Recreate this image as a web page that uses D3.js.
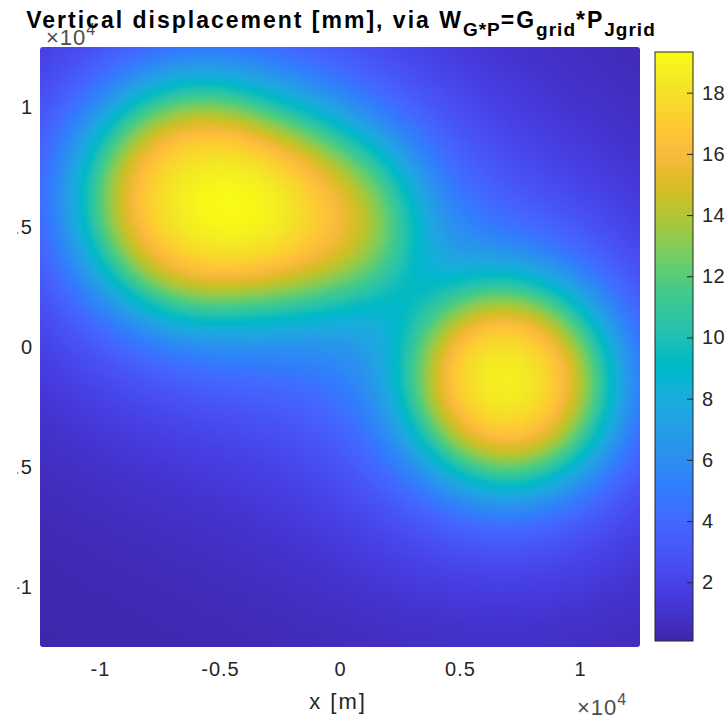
<!DOCTYPE html>
<html>
<head>
<meta charset="UTF-8">
<title>Vertical displacement</title>
<script src="https://cdn.jsdelivr.net/npm/d3@7"></script>
<style>
  body { margin: 0; background: #fff; }
  text { font-family: "Liberation Sans", Arial, sans-serif; }
</style>
</head>
<body>
<svg id="chart" width="725" height="725"></svg>
<script>
// disc loads P: centre [m], radius [m], relative pressure
const loadX = [-6000, -2600, -200, 7050];
const loadY = [6150, 5700, 5400, -1550];
const loadR = [4600, 3900, 3200, 4000];
const loadP = [1.0, 0.85, 0.82, 1.14];
const peakW = 19.3; // mm, largest displacement

const xTicks = [-10000, -5000, 0, 5000, 10000];
const yTicks = [-10000, -5000, 0, 5000, 10000];
const cTicks = [2, 4, 6, 8, 10, 12, 14, 16, 18];
const cLim = [0.08, 19.33];
const extent = [-12500, 12500];

const parula = ["#3e26a8","#402ab4","#422ec0","#4332cb","#4537d5","#463cde","#4741e5","#4747eb",
  "#484df0","#4852f4","#4758f8","#465efb","#4563fd","#4269fe","#3e6fff","#3875fe",
  "#327cfc","#2f81fa","#2e87f7","#2d8cf3","#2b91ef","#2796eb","#259be8","#23a0e5",
  "#20a5e3","#1ca9df","#18addb","#12b1d6","#08b5d0","#01b8ca","#02bac3","#0bbdbd",
  "#19bfb6","#24c1ae","#2cc4a7","#31c69f","#37c897","#3fca8e","#4acb84","#57cc7a",
  "#64cd6f","#72cd64","#81cc59","#8fcb4e","#9dc943","#abc739","#b9c431","#c5c22a",
  "#d1bf27","#dcbd29","#e6bb2d","#f0ba36","#f8ba3d","#febe3c","#fec338","#fec934",
  "#fccf30","#fad62d","#f7dc2a","#f5e327","#f5e924","#f6ef20","#f7f51b","#f9fb15"];

const svg = d3.select("#chart");
const plot = { left: 40, top: 47, size: 600 };
const cbar = { left: 655, top: 52, width: 38, height: 589 };

const x = d3.scaleLinear().domain(extent).range([plot.left, plot.left + plot.size]);
const y = d3.scaleLinear().domain(extent).range([plot.top + plot.size, plot.top]);
const color = d3.scaleLinear()
  .domain(parula.map((_, i) => cLim[0] + i * (cLim[1] - cLim[0]) / (parula.length - 1)))
  .range(parula)
  .clamp(true);

// load grid P_Jgrid
const N = 125;
const cell = (extent[1] - extent[0]) / N;
const P0 = new Float32Array(N * N);
for (let j = 0; j < N; j++) {
  const yy = extent[1] - (j + 0.5) * cell;
  for (let i = 0; i < N; i++) {
    const xx = extent[0] + (i + 0.5) * cell;
    let v = 0;
    for (let k = 0; k < loadX.length; k++) {
      const dx = xx - loadX[k], dy = yy - loadY[k];
      if (dx * dx + dy * dy <= loadR[k] * loadR[k]) v = Math.max(v, loadP[k]);
    }
    P0[j * N + i] = v;
  }
}

// soften the load edges
function blur(src, sigma) {
  const r = Math.ceil(3 * sigma / cell);
  const ker = d3.range(-r, r + 1).map(k => Math.exp(-((k * cell) ** 2) / (2 * sigma * sigma)));
  const s = d3.sum(ker);
  const tmp = new Float32Array(N * N), out = new Float32Array(N * N);
  for (let j = 0; j < N; j++)
    for (let i = 0; i < N; i++) {
      let acc = 0;
      for (let k = -r; k <= r; k++) {
        const ii = i + k;
        if (ii >= 0 && ii < N) acc += src[j * N + ii] * ker[k + r];
      }
      tmp[j * N + i] = acc / s;
    }
  for (let j = 0; j < N; j++)
    for (let i = 0; i < N; i++) {
      let acc = 0;
      for (let k = -r; k <= r; k++) {
        const jj = j + k;
        if (jj >= 0 && jj < N) acc += tmp[jj * N + i] * ker[k + r];
      }
      out[j * N + i] = acc / s;
    }
  return out;
}
const P = blur(P0, 1000);

// Green's function G_grid: point-load response 1/r, tapered with depth scale L
const L = 5500, r0 = 0.3 * cell, M = 2 * N - 1;
const G = new Float32Array(M * M);
for (let dj = -(N - 1); dj < N; dj++)
  for (let di = -(N - 1); di < N; di++) {
    const r = Math.hypot(di, dj) * cell;
    G[(dj + N - 1) * M + di + N - 1] = Math.exp(-r / L) / Math.hypot(r, r0);
  }

const W = new Float32Array(N * N);
for (let lj = 0; lj < N; lj++)
  for (let li = 0; li < N; li++) {
    const p = P[lj * N + li];
    if (p < 1e-3) continue;
    for (let j = 0; j < N; j++) {
      const row = (j - lj + N - 1) * M - li + N - 1;
      for (let i = 0; i < N; i++) W[j * N + i] += p * G[row + i];
    }
  }
const scale = peakW / d3.max(W);

const canvas = document.createElement("canvas");
canvas.width = N; canvas.height = N;
const ctx = canvas.getContext("2d");
const img = ctx.createImageData(N, N);
W.forEach((v, k) => {
  const c = d3.rgb(color(v * scale));
  img.data[4 * k] = c.r; img.data[4 * k + 1] = c.g; img.data[4 * k + 2] = c.b; img.data[4 * k + 3] = 255;
});
ctx.putImageData(img, 0, 0);

const defs = svg.append("defs");
defs.append("clipPath").attr("id", "plotclip")
  .append("rect")
  .attr("x", plot.left).attr("y", plot.top)
  .attr("width", plot.size).attr("height", plot.size).attr("rx", 3);

svg.append("image")
  .attr("href", canvas.toDataURL())
  .attr("x", plot.left).attr("y", plot.top)
  .attr("width", plot.size).attr("height", plot.size)
  .attr("preserveAspectRatio", "none")
  .attr("clip-path", "url(#plotclip)");

// axes
const xAxis = svg.append("g")
  .attr("transform", `translate(0,${plot.top + plot.size})`)
  .call(d3.axisBottom(x).tickValues(xTicks).tickSize(0).tickPadding(15).tickFormat(d => String(d / 1e4)));
const yAxis = svg.append("g")
  .attr("transform", `translate(${plot.left},0)`)
  .call(d3.axisLeft(y).tickValues(yTicks).tickSize(0).tickPadding(7).tickFormat(d => String(d / 1e4)));
defs.append("clipPath").attr("id", "yclip")
  .append("rect").attr("x", -22.5).attr("y", 0).attr("width", 30).attr("height", 725);
yAxis.attr("clip-path", "url(#yclip)");

[xAxis, yAxis].forEach(g => {
  g.select(".domain").remove();
  g.selectAll("text").attr("fill", "#262626").style("font-size", "20px").style("letter-spacing", "1px");
});

svg.append("text")
  .attr("x", 338).attr("y", 709)
  .attr("text-anchor", "middle")
  .attr("fill", "#262626").style("font-size", "22px").style("letter-spacing", "2px")
  .text("x [m]");

function exponent(xp, yp) {
  const t = svg.append("text").attr("x", xp).attr("y", yp)
    .attr("fill", "#4d4d4d").style("font-size", "22px").style("letter-spacing", "1px");
  t.append("tspan").text("×10");
  t.append("tspan").attr("dy", -10).style("font-size", "16px").text("4");
}
exponent(577, 715);
exponent(46, 45);

// title
const title = svg.append("text")
  .attr("x", 341).attr("y", 28)
  .attr("text-anchor", "middle")
  .attr("fill", "#000").style("font-weight", "bold");
const parts = [["Vertical displacement [mm], via W", 0], ["G*P", 1], ["=G", 0], ["grid", 1], ["*P", 0], ["Jgrid", 1]];
let level = 0;
parts.forEach(([s, sub]) => {
  title.append("tspan")
    .attr("dy", (sub - level) * 8)
    .style("font-size", sub ? "19px" : "23px")
    .style("letter-spacing", sub ? "1px" : "2px")
    .text(s);
  level = sub;
});

// colorbar
const grad = defs.append("linearGradient").attr("id", "cgrad")
  .attr("x1", 0).attr("y1", 1).attr("x2", 0).attr("y2", 0);
parula.forEach((c, i) => grad.append("stop").attr("offset", i / (parula.length - 1)).attr("stop-color", c));

const cy = d3.scaleLinear().domain(cLim).range([cbar.top + cbar.height, cbar.top]);
svg.append("rect")
  .attr("x", cbar.left).attr("y", cbar.top)
  .attr("width", cbar.width).attr("height", cbar.height)
  .attr("fill", "url(#cgrad)")
  .attr("stroke", "#262626").attr("stroke-width", 1);

const cAxis = svg.append("g")
  .attr("transform", `translate(${cbar.left + cbar.width},0)`)
  .call(d3.axisRight(cy).tickValues(cTicks).tickSizeInner(-6).tickSizeOuter(0).tickPadding(9));
cAxis.select(".domain").remove();
cAxis.selectAll("line").attr("stroke", "#262626");
cAxis.selectAll("text").attr("fill", "#262626").style("font-size", "20px").style("letter-spacing", "0.5px");
</script>
</body>
</html>
